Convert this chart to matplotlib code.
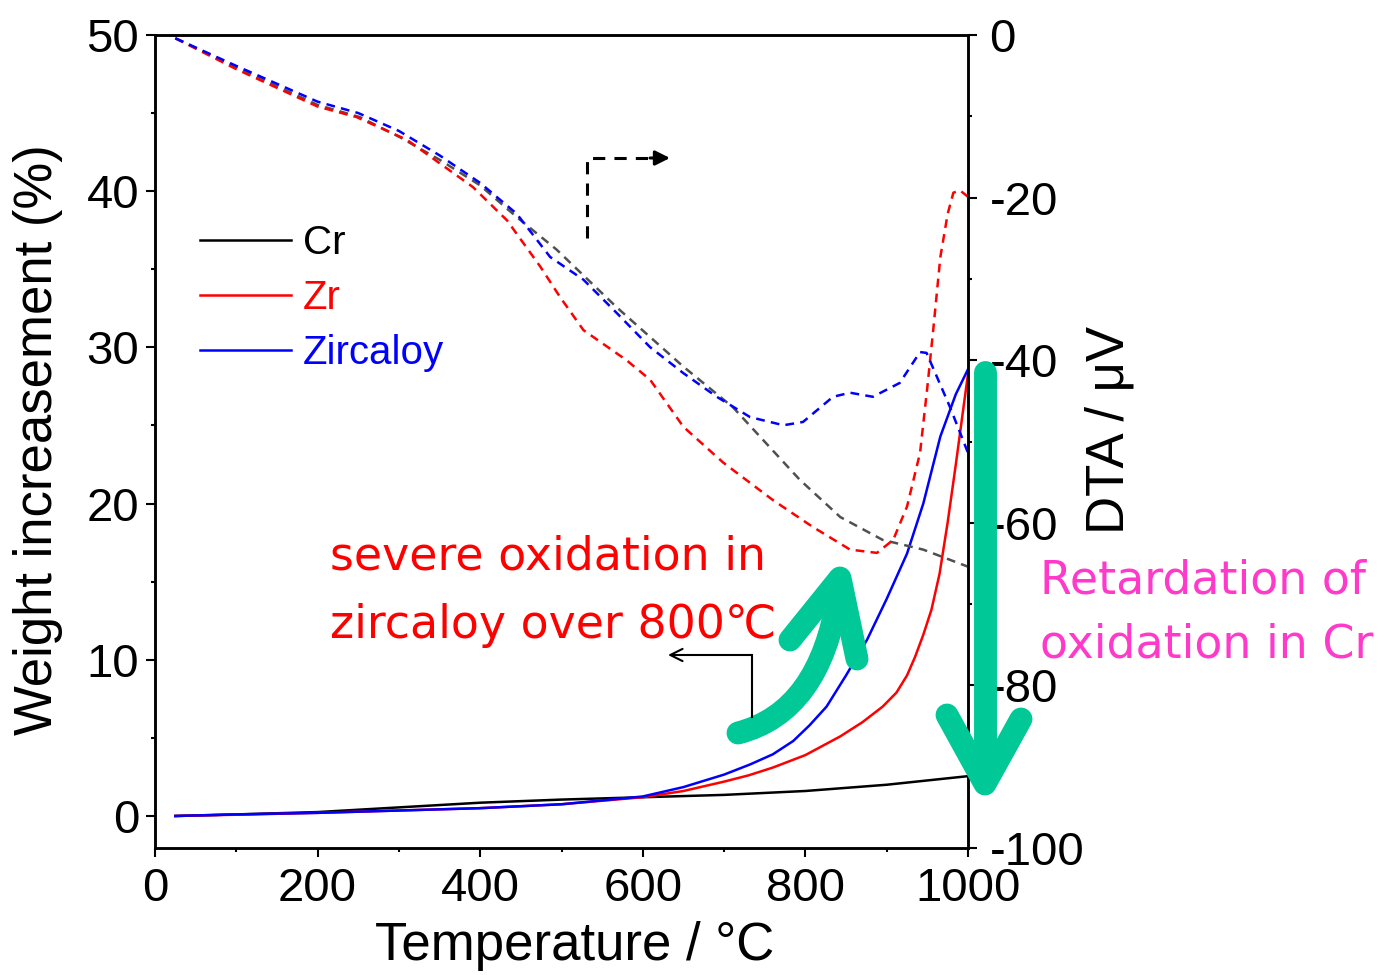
import numpy as np
import matplotlib
matplotlib.use('Agg')
import matplotlib.pyplot as plt
from matplotlib.lines import Line2D
from matplotlib.path import Path
from matplotlib.patches import PathPatch

plt.rcParams['font.family'] = ['Liberation Sans', 'DejaVu Sans']
plt.rcParams['axes.unicode_minus'] = False

# ---- weight gain (left axis, solid) ----
t_cr = [25, 100, 200, 300, 400, 500, 600, 700, 800, 900, 1000]
w_cr = [0, 0.1, 0.25, 0.55, 0.85, 1.05, 1.2, 1.35, 1.6, 2.0, 2.55]

t_zr = [25, 100, 200, 300, 400, 500, 600, 650, 700, 730, 760, 800, 843, 870, 895,
        912, 925, 935, 945, 955, 965, 975, 985, 993, 1000]
w_zr = [0, 0.08, 0.2, 0.35, 0.5, 0.75, 1.2, 1.6, 2.2, 2.6, 3.1, 3.9, 5.1, 6.0, 7.0,
        7.9, 9.0, 10.2, 11.6, 13.2, 15.5, 18.8, 22.5, 25.6, 28.3]

t_zy = [25, 100, 200, 300, 400, 500, 600, 650, 700, 732, 760, 785, 805, 826, 850,
        876, 900, 925, 945, 966, 985, 1000]
w_zy = [0, 0.1, 0.2, 0.35, 0.5, 0.75, 1.25, 1.85, 2.65, 3.3, 3.95, 4.8, 5.8, 7.0,
        9.0, 11.3, 13.9, 16.8, 20.0, 24.3, 27.0, 28.6]

# ---- DTA (right axis, dashed) ----
t_dta_cr = [25, 100, 200, 252, 300, 351, 400, 445, 494, 568, 650, 711, 793, 843,
            895, 945, 1000]
v_dta_cr = [-0.4, -4.0, -8.6, -10.1, -12.5, -15.4, -18.5, -22.4, -26.4, -33.5,
            -40.8, -45.8, -54.7, -59.3, -62.1, -63.3, -65.4]

t_dta_zr = [25, 100, 200, 248, 310, 391, 433, 474, 498, 527, 580, 609, 650, 699,
            760, 809, 855, 888, 908, 925, 941, 950, 957, 966, 975, 982, 990, 1000]
v_dta_zr = [-0.4, -4.2, -8.8, -10.1, -12.9, -18.7, -22.8, -28.5, -32.2, -36.3,
            -40.0, -42.4, -48.2, -52.6, -57.2, -60.5, -63.3, -63.7, -62.1, -58.0,
            -51.4, -43.3, -36.5, -27.3, -22.0, -19.4, -19.1, -19.9]

t_dta_zy = [25, 100, 200, 250, 300, 350, 400, 445, 486, 527, 568, 609, 650, 691,
            732, 773, 797, 834, 855, 883, 916, 941, 949, 978, 1000]
v_dta_zy = [-0.4, -3.8, -8.2, -9.6, -11.8, -14.8, -18.2, -22.0, -27.3, -30.1, -34.2,
            -38.4, -41.6, -44.5, -47.0, -48.0, -47.6, -44.5, -44.0, -44.5, -42.8,
            -39.0, -39.1, -45.8, -51.4]

labels = ['Cr', 'Zr', 'Zircaloy']
colors = ['black', 'red', 'blue']
dta_colors = ['#505050', 'red', 'blue']

W, H = 1388, 975
fig = plt.figure(figsize=(W / 100, H / 100), dpi=100)
ax = fig.add_axes([155 / W, 1 - 848 / H, 813 / W, 813 / H])
ax2 = ax.twinx()


def px(x, y):
    return x / W, 1 - y / H


lw = 1.8
handles = []
for t, w, c, lab in zip([t_cr, t_zr, t_zy], [w_cr, w_zr, w_zy], colors, labels):
    h, = ax.plot(t, w, color=c, lw=lw, label=lab, solid_joinstyle='round')
    handles.append(h)

for t, v, c in zip([t_dta_cr, t_dta_zr, t_dta_zy],
                   [v_dta_cr, v_dta_zr, v_dta_zy], dta_colors):
    ax2.plot(t, v, color=c, lw=lw, ls=(0, (3.5, 2.5)))

ax.set_xlim(0, 1000)
ax.set_ylim(-2.05, 50)
ax2.set_ylim(-100, 0)

ax.set_xticks(np.arange(0, 1001, 200))
ax.set_xticks(np.arange(100, 1000, 200), minor=True)
ax.set_yticks(np.arange(0, 51, 10))
ax.set_yticks(np.arange(5, 50, 10), minor=True)
ax2.set_yticks(np.arange(-100, 1, 20))
ax2.set_yticks(np.arange(-90, 0, 20), minor=True)

for a in (ax, ax2):
    for s in a.spines.values():
        s.set_linewidth(1.8)
    a.tick_params(which='major', direction='out', length=6.5, width=1.5,
                  labelsize=34)
    a.tick_params(which='minor', direction='out', length=3, width=1.5)
ax.tick_params(axis='y', pad=5)
ax.tick_params(axis='x', pad=7)
ax2.tick_params(axis='y', pad=9)

fig.text(*px(38, 440), 'Weight increasement (%)', rotation=90, fontsize=38,
         ha='center', va='center')
fig.text(*px(1110, 430), 'DTA / \u03bcV', rotation=90, fontsize=38,
         ha='center', va='center')
fig.text(*px(575, 946), 'Temperature / \u00b0C', fontsize=38,
         ha='center', va='center')

leg = ax.legend(handles=handles, loc='upper left',
                bbox_to_anchor=((200 - 155) / 813, (848 - 224) / 813),
                frameon=False, fontsize=29, handlelength=2.25,
                handletextpad=0.3, labelspacing=0.42, borderpad=0,
                borderaxespad=0)
for txt, c in zip(leg.get_texts(), colors):
    txt.set_color(c)

# annotation texts
ann = dict(fontsize=33, family='DejaVu Sans', va='baseline', ha='left')
fig.text(*px(330, 570), 'severe oxidation in', color='red', **ann)
fig.text(*px(330, 638), 'zircaloy over 800\u2103', color='red', **ann)
fig.text(*px(1040, 593), 'Retardation of', color='#FF3ACB', **ann)
fig.text(*px(1040, 657), 'oxidation in Cr', color='#FF3ACB', **ann)

# green arrows
green = '#00C897'
glw = 16.5
fig.add_artist(Line2D(*zip(px(985, 372), px(985, 780)), color=green, lw=glw,
                      solid_capstyle='round', transform=fig.transFigure))
fig.add_artist(Line2D(*zip(px(947, 715), px(985, 784), px(1021, 719)),
                      color=green, lw=glw, solid_capstyle='round',
                      solid_joinstyle='round', transform=fig.transFigure))
curve = Path([px(738, 733), px(820, 712), px(838, 595)],
             [Path.MOVETO, Path.CURVE3, Path.CURVE3])
fig.add_artist(PathPatch(curve, fill=False, ec=green, lw=glw, capstyle='round',
                         transform=fig.transFigure))
fig.add_artist(Line2D(*zip(px(790, 640), px(840, 578), px(857, 659)),
                      color=green, lw=glw, solid_capstyle='round',
                      solid_joinstyle='round', transform=fig.transFigure))

# black pointer arrows
fig.add_artist(Line2D(*zip(px(752, 717), px(752, 655)), color='black', lw=1.5,
                      transform=fig.transFigure))
ax.annotate('', xy=px(668, 655), xytext=px(752, 655),
            xycoords='figure fraction', textcoords='figure fraction',
            arrowprops=dict(arrowstyle='->', lw=1.5, color='black',
                            mutation_scale=22, shrinkA=0, shrinkB=0))
fig.add_artist(Line2D(*zip(px(587, 238), px(587, 158), px(655, 158)),
                      color='black', lw=2.2, ls=(0, (4, 3)),
                      transform=fig.transFigure))
ax.annotate('', xy=px(670, 158), xytext=px(650, 158),
            xycoords='figure fraction', textcoords='figure fraction',
            arrowprops=dict(arrowstyle='-|>', lw=2.2, color='black',
                            mutation_scale=22, shrinkA=0, shrinkB=0))

fig.savefig('out.png', dpi=100)
